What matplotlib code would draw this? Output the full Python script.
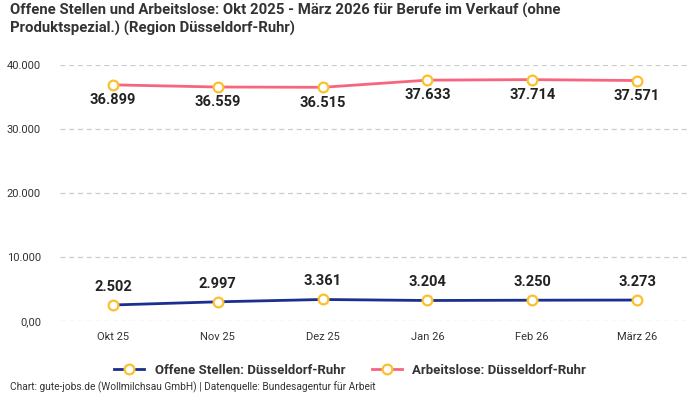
import matplotlib.pyplot as plt
import numpy as np

monate = ['Okt 25', 'Nov 25', 'Dez 25', 'Jan 26', 'Feb 26', 'März 26']
offene_stellen = [2502, 2997, 3361, 3204, 3250, 3273]
arbeitslose = [36899, 36559, 36515, 37633, 37714, 37571]
yticks = [0, 10000, 20000, 30000, 40000]
yticklabels = ['0,00', '10.000', '20.000', '30.000', '40.000']

plt.rcParams['font.family'] = ['Roboto', 'DejaVu Sans']

def fmt(v):
    return f'{v:,}'.replace(',', '.')

blau = '#1b2f8f'
rosa = '#f7657f'
gelb = '#fbc02d'

fig = plt.figure(figsize=(7, 4), dpi=100)
ax = fig.add_axes([0.0864, 0.1975, 0.8986, 0.64])

x = np.arange(len(monate))
ax.plot(x, offene_stellen, color=blau, lw=2, marker='o', ms=7, mfc='white',
        mec=gelb, mew=1.6, clip_on=False, zorder=3, label='Offene Stellen: Düsseldorf-Ruhr')
ax.plot(x, arbeitslose, color=rosa, lw=2, marker='o', ms=7, mfc='white',
        mec=gelb, mew=1.6, clip_on=False, zorder=3, label='Arbeitslose: Düsseldorf-Ruhr')

for i in range(len(monate)):
    ax.annotate(fmt(offene_stellen[i]), (x[i], offene_stellen[i]), xytext=(0, 8),
                textcoords='offset points', ha='center', va='bottom',
                fontsize=10.5, fontweight='bold', color='#222222')
    ax.annotate(fmt(arbeitslose[i]), (x[i], arbeitslose[i]), xytext=(0, -6),
                textcoords='offset points', ha='center', va='top',
                fontsize=10.5, fontweight='bold', color='#222222')

ax.set_xlim(-0.5, len(monate) - 0.5)
ax.set_ylim(0, 40000)
ax.set_xticks(x)
ax.set_xticklabels(monate, fontsize=8, color='#333333')
ax.set_yticks(yticks)
ax.set_yticklabels(yticklabels, fontsize=8, color='#333333')
ax.tick_params(length=0, pad=8)
ax.tick_params(axis='y', pad=14)
ax.grid(axis='y', color='#cccccc', ls=(0, (4, 3)), lw=0.9)
for s in ax.spines.values():
    s.set_visible(False)

fig.text(0.014, 0.993, 'Offene Stellen und Arbeitslose: Okt 2025 - März 2026 für Berufe im Verkauf (ohne\nProduktspezial.) (Region Düsseldorf-Ruhr)',
         ha='left', va='top', fontsize=10.7, fontweight='bold', color='#333333',
         linespacing=1.3)

leg = fig.legend(loc='center', bbox_to_anchor=(0.5, 0.075), ncol=2, frameon=False,
                 prop={'weight': 'bold', 'size': 9.5}, handlelength=2.3,
                 columnspacing=2.0)
for t in leg.get_texts():
    t.set_color('#333333')

fig.text(0.014, 0.018, 'Chart: gute-jobs.de (Wollmilchsau GmbH) | Datenquelle: Bundesagentur für Arbeit',
         ha='left', va='bottom', fontsize=7.3, color='#333333')

fig.savefig('out.png', dpi=100)
